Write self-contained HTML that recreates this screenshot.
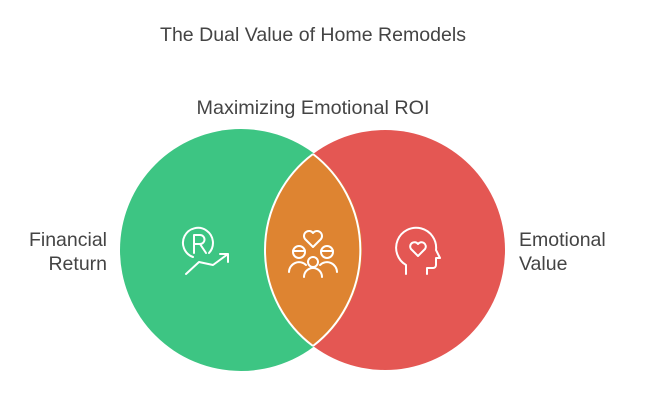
<!DOCTYPE html>
<html><head><style>
html,body{margin:0;padding:0;background:#fff;width:650px;height:420px;overflow:hidden}
text{font-family:"Liberation Sans",sans-serif;fill:#444}
</style></head><body>
<svg width="650" height="420" viewBox="0 0 650 420" xmlns="http://www.w3.org/2000/svg">
<text x="313" y="41" font-size="19.5" text-anchor="middle" textLength="306" lengthAdjust="spacingAndGlyphs">The Dual Value of Home Remodels</text>
<text x="313" y="114" font-size="19.5" text-anchor="middle" textLength="233" lengthAdjust="spacingAndGlyphs">Maximizing Emotional ROI</text>
<text x="107" y="246" font-size="19.5" text-anchor="end">Financial</text>
<text x="107" y="270" font-size="19.5" text-anchor="end">Return</text>
<text x="519" y="246" font-size="19.5">Emotional</text>
<text x="519" y="270" font-size="19.5">Value</text>
<defs><clipPath id="g"><circle cx="241" cy="250" r="121"/></clipPath></defs>
<circle cx="241" cy="250" r="121" fill="#3dc583"/>
<circle cx="385" cy="250" r="120" fill="#e45753"/>
<circle cx="385" cy="250" r="120" fill="#de8431" clip-path="url(#g)"/>
<path d="M313 154 A121 121 0 0 1 313 346" fill="none" stroke="#fff" stroke-width="2"/>
<path d="M313 154 A120 120 0 0 0 313 346" fill="none" stroke="#fff" stroke-width="2"/>
<g fill="none" stroke="#fff" stroke-width="2" stroke-linecap="round" stroke-linejoin="round">
<!-- financial icon -->
<path d="M193 257 A15 15 0 1 1 209 253"/>
<path d="M194 253 V235 h6 a4.5 4.5 0 0 1 0 9 h-6 M200 244 l6 9"/>
<path d="M186 274 L199 262 L213 265 L228 254 M220 254 h8 v8"/>
<!-- people/heart -->
<path d="M313 247 l-8 -8 a4.5 4.5 0 0 1 8 -6 a4.5 4.5 0 0 1 8 6 z"/>
<circle cx="299" cy="252" r="6"/><circle cx="327" cy="252" r="6"/><circle cx="313" cy="262" r="5"/>
<path d="M289 272 a10 10 0 0 1 17 -7 M337 272 a10 10 0 0 0 -17 -7 M304 277 a9 9 0 0 1 18 0"/>
<path d="M293 251 h12 M321 251 h12"/>
<!-- head -->
<path d="M406 274 v-9 a20 20 0 1 1 30 -15 l4 8 h-4 v7 a3 3 0 0 1 -3 3 h-6 v6"/>
<path d="M418 256 l-7 -7 a4 4 0 0 1 7 -5 a4 4 0 0 1 7 5 z"/>
</g>
</svg>
</body></html>
